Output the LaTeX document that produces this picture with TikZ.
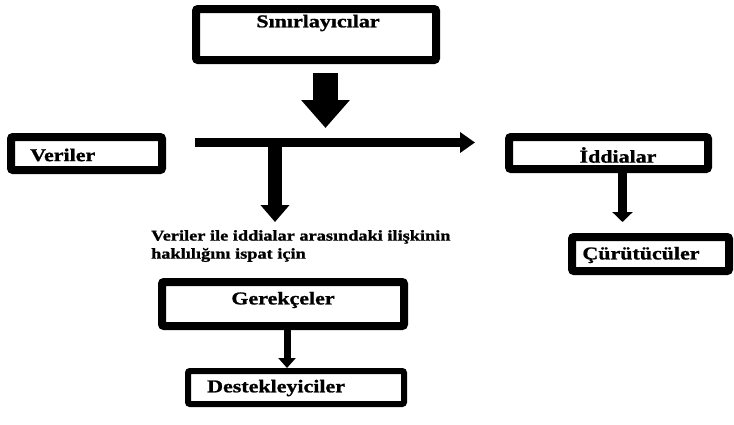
\documentclass[tikz,border=0pt]{standalone}
\usepackage{fontspec}
\setmainfont{Liberation Serif}
\newfontfamily\widefont[FakeStretch=1.22,FakeBold=1.2]{Liberation Serif}
\usetikzlibrary{arrows.meta}
\begin{document}
\begin{tikzpicture}[x=1pt,y=-1pt,
  box/.style={draw, line width=8pt, rounded corners=2pt, inner sep=0pt},
  lbl/.style={font=\widefont\bfseries\fontsize{18}{20}\selectfont, inner sep=0pt},
  small/.style={font=\widefont\bfseries\fontsize{15}{18}\selectfont, inner sep=0pt, align=left},
  blk/.style={line width=#1}]
\useasboundingbox (0,0) rectangle (734,424);
% boxes
\node[box, minimum width=240pt, minimum height=51pt] (sin) at (316,34.5) {};
\node[lbl] (sint) at (318,23) {Sınırlayıcılar};
\node[box, minimum width=151pt, minimum height=33pt] (ver) at (86.5,153.5) {};
\node[lbl, anchor=west] (vert) at (30,155) {Veriler};
\node[box, minimum width=199pt, minimum height=32pt] (idd) at (608.5,153) {};
\node[lbl] (iddt) at (618,155) {İddialar};
\node[box, minimum width=157pt, minimum height=34pt] (cur) at (650.5,254) {};
\node[lbl] (curt) at (641,255) {Çürütücüler};
\node[box, minimum width=242pt, minimum height=44pt] (ger) at (283,304) {};
\node[lbl] (gert) at (283,300) {Gerekçeler};
\node[box, line width=6pt, minimum width=216pt, minimum height=33pt] (des) at (296,387.5) {};
\node[lbl, anchor=west] (dest) at (207,388) {Destekleyiciler};
\node[small, anchor=north west] (note) at (151,230) {Veriler ile iddialar arasındaki ilişkinin\\haklılığını ispat için};
% arrows
\coordinate (a1s) at (325.5,73);
\coordinate (a1e) at (325.5,128);
\draw[blk=25pt, -{Triangle[length=28pt,width=47pt]}] (a1s) -- (a1e);
\coordinate (hs) at (195,142.5);
\coordinate (he) at (475,142.5);
\draw[blk=9pt, -{Triangle[length=15pt,width=20pt]}] (hs) -- (he);
\coordinate (bs) at (275,140);
\coordinate (be) at (275,222);
\draw[blk=14pt, -{Triangle[length=17pt,width=28pt]}] (bs) -- (be);
\coordinate (c2) at (622.5,222);
\draw[blk=9pt, -{Triangle[length=10pt,width=20pt]}] (idd.south -| c2) -- (c2);
\coordinate (d2) at (287,368);
\draw[blk=7pt, -{Triangle[length=10pt,width=17pt]}] (ger.south -| d2) -- (d2);
\end{tikzpicture}
\end{document}
